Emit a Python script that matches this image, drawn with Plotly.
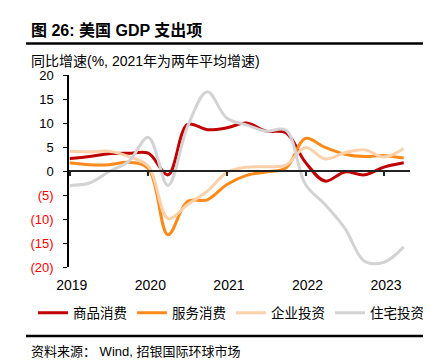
import plotly.graph_objects as go

quarters = ["2019Q1", "2019Q2", "2019Q3", "2019Q4",
            "2020Q1", "2020Q2", "2020Q3", "2020Q4",
            "2021Q1", "2021Q2", "2021Q3", "2021Q4",
            "2022Q1", "2022Q2", "2022Q3", "2022Q4",
            "2023Q1", "2023Q2"]
goods = [2.6, 3.0, 3.6, 3.7, 3.7, -0.8, 9.7, 8.6, 9.0, 10.0, 8.3, 8.0, 1.8, -2.1, -0.2, -0.8, 0.8, 1.7]
services = [1.7, 1.3, 1.3, 1.8, 0.5, -13.3, -6.3, -6.0, -2.8, -0.9, -0.2, 0.6, 6.8, 4.9, 3.5, 3.0, 3.2, 2.7]
business = [4.1, 4.0, 4.1, 3.0, 1.0, -9.9, -7.0, -4.2, -0.3, 0.8, 0.9, 1.2, 4.9, 2.5, 3.8, 4.4, 2.9, 4.7]
residential = [-3.0, -2.5, -0.1, 2.0, 7.0, -3.0, 9.3, 16.5, 11.0, 9.6, 8.3, 8.5, -2.8, -7.0, -11.9, -18.8, -19.0, -15.8]

series_names = ["商品消费", "服务消费", "企业投资", "住宅投资"]
series_colors = ["#C00000", "#FF8A1C", "#FBD0AA", "#D3D3D3"]
year_ticks = [2019, 2020, 2021, 2022, 2023]
y_ticks = [-20, -15, -10, -5, 0, 5, 10, 15, 20]

title_text = "<b>图 26: 美国 GDP 支出项</b>"
subtitle_text = "同比增速(%, 2021年为两年平均增速)"
source_text = "资料来源： Wind, 招银国际环球市场"

xs = [int(q[:4]) + (int(q[-1]) - 1) / 4 for q in quarters]

W, H = 431, 363
L, R, T, B = 61, 402, 67, 259


def px(x):
    return (x - L) / (R - L)


def py(y):
    return (B - y) / (B - T)


FONT = "Liberation Sans, Arial, Noto Sans CJK SC, sans-serif"

fig = go.Figure()
# invisible helper trace so the label axis (x2) is rendered
fig.add_trace(go.Scatter(x=xs, y=goods, xaxis="x2", mode="lines", opacity=0,
                         showlegend=False, hoverinfo="skip", line=dict(width=0)))
for name, vals, col in zip(series_names, [goods, services, business, residential], series_colors):
    fig.add_trace(go.Scatter(
        x=xs, y=vals, name=name, mode="lines",
        line=dict(color=col, width=3, shape="spline", smoothing=1.0),
        hoverinfo="skip",
    ))

ticktext = []
for v in y_ticks:
    if v < 0:
        ticktext.append("<span style='color:#FF0000'>(%d)</span>" % (-v))
    else:
        ticktext.append(str(v))

xr = [2018.99, 2023.33]
fig.update_layout(
    width=W, height=H,
    margin=dict(l=L, r=W - R, t=T, b=H - B, pad=0, autoexpand=False),
    paper_bgcolor="white", plot_bgcolor="white",
    font=dict(family=FONT, size=13, color="#000000"),
    showlegend=True,
    legend=dict(orientation="h", x=px(25), xanchor="left", y=py(305), yanchor="middle",
                font=dict(size=13.5, family="Noto Sans CJK SC, sans-serif"),
                itemwidth=30, tracegroupgap=0, bgcolor="rgba(0,0,0,0)"),
    xaxis=dict(range=xr, anchor="free", position=0.5, showline=True, linecolor="#222222",
               linewidth=2, ticks="outside", ticklen=4, tickwidth=1.5, tickcolor="#222222",
               tickvals=year_ticks, showticklabels=False, showgrid=False, zeroline=False),
    xaxis2=dict(range=xr, overlaying="x", anchor="y", side="bottom", showline=False,
                ticks="outside", ticklen=5, tickcolor="rgba(0,0,0,0)",
                tickvals=year_ticks, ticktext=[str(y) for y in year_ticks],
                ticklabelshift=2,
                tickfont=dict(size=14), showgrid=False, zeroline=False),
    yaxis=dict(range=[-20, 20], tickvals=y_ticks, ticktext=ticktext, showline=True,
               linecolor="#000000", linewidth=1.5, ticks="outside", ticklen=4,
               tickcolor="#000000", showgrid=False, zeroline=False, tickfont=dict(size=13),
               ticklabelstandoff=7),
    annotations=[
        dict(text=title_text, xref="paper", yref="paper", x=px(21), y=py(22), xanchor="left",
             yanchor="middle", showarrow=False, font=dict(size=16, family=FONT)),
        dict(text=subtitle_text, xref="paper", yref="paper", x=px(21), y=py(53), xanchor="left",
             yanchor="middle", showarrow=False, font=dict(size=14, family=FONT)),
        dict(text=source_text, xref="paper", yref="paper", x=px(21), y=py(343), xanchor="left",
             yanchor="middle", showarrow=False, font=dict(size=13, family=FONT)),
    ],
    shapes=[
        dict(type="line", xref="paper", yref="paper", x0=px(18), x1=px(418), y0=py(35.5), y1=py(35.5),
             line=dict(color="#000000", width=2.5)),
        dict(type="line", xref="paper", yref="paper", x0=px(18), x1=px(418), y0=py(328), y1=py(328),
             line=dict(color="#000000", width=2.5)),
    ],
)
fig.write_html("out.html")
